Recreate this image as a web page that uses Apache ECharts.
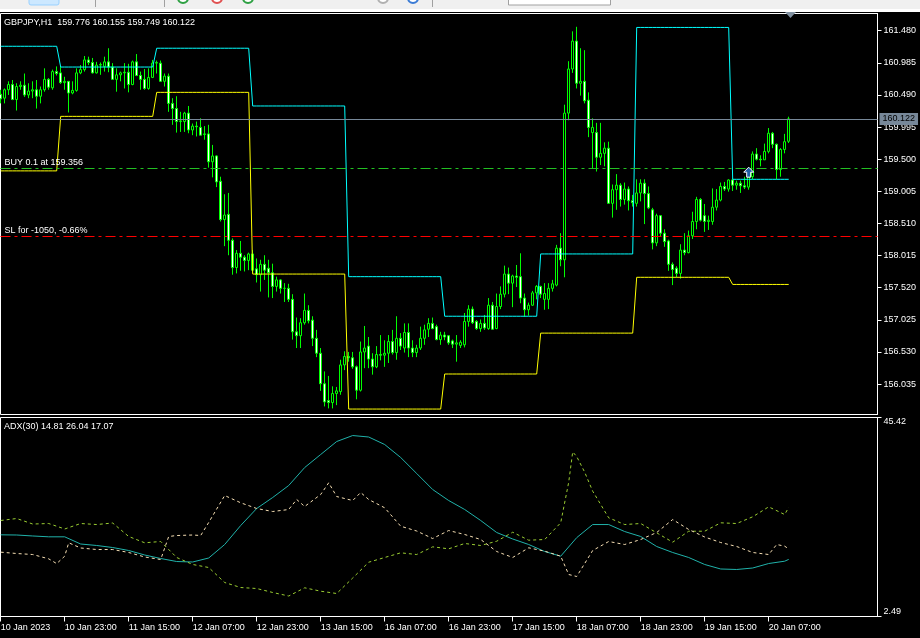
<!DOCTYPE html>
<html><head><meta charset="utf-8">
<script src="https://cdn.jsdelivr.net/npm/echarts@6/dist/echarts.min.js"></script>
<style>html,body{margin:0;padding:0;background:#000;}#c{width:920px;height:638px;}</style>
</head><body><div id="c"></div>
<script>
// ---------- DATA ----------
const headerOHLC = [159.776, 160.155, 159.749, 160.122];
const adxHeader = [14.81, 26.04, 17.07];

const opens = [160.50,160.44,160.57,160.65,160.42,160.62,160.64,160.49,160.55,160.57,160.47,160.57,160.73,160.60,160.85,160.83,160.68,160.70,160.52,160.56,
160.83,160.88,161.03,160.99,160.83,160.95,160.93,161.00,160.92,160.73,160.80,160.83,160.84,160.65,161.00,160.79,160.73,160.59,160.76,160.98,
160.98,160.70,160.78,160.36,160.28,160.08,160.08,160.21,159.95,160.01,159.99,159.88,159.89,159.46,159.55,159.16,158.57,158.65,158.25,157.83,
158.05,157.99,157.94,158.04,157.81,157.72,157.88,157.82,157.75,157.54,157.64,157.51,157.51,157.34,156.84,156.78,156.98,157.17,157.02,156.74,
156.51,156.04,155.78,155.75,155.89,155.92,156.33,156.46,156.44,156.30,155.94,156.53,156.62,156.42,156.30,156.49,156.48,156.51,156.69,156.52,
156.74,156.59,156.83,156.59,156.52,156.59,156.74,156.88,156.97,156.92,156.72,156.79,156.78,156.70,156.65,156.63,156.64,157.00,157.19,157.00,
156.89,156.97,156.89,157.25,156.89,157.23,157.42,157.73,157.59,157.70,157.69,157.36,157.18,157.25,157.44,157.54,157.34,157.34,157.51,157.56,
158.13,157.95,160.21,160.89,161.32,160.67,160.70,160.41,159.91,159.91,159.53,159.59,159.67,158.82,159.03,159.10,158.88,159.04,158.86,158.82,
158.98,159.13,158.97,158.72,158.21,158.63,158.36,158.24,157.88,157.82,157.74,158.10,158.06,158.32,158.54,158.88,158.63,158.54,158.54,158.76,
158.87,159.08,159.04,159.18,159.10,159.13,159.09,159.07,159.23,159.58,159.50,159.49,159.62,159.90,159.73,159.34,159.65,159.776];
const highs = [160.57,160.59,160.70,160.72,160.67,160.70,160.82,160.67,160.70,160.72,160.62,160.90,160.75,160.88,160.93,160.93,160.77,160.70,160.70,160.90,
160.95,161.09,161.08,161.06,161.00,160.99,161.08,161.21,160.98,160.90,160.85,160.98,160.97,161.02,161.12,160.85,160.89,160.90,161.03,161.02,
161.02,160.82,160.82,160.44,160.47,160.23,160.23,160.32,160.05,160.08,160.13,160.01,160.03,159.72,159.56,159.23,158.96,158.98,158.28,158.10,
158.24,158.02,158.06,158.10,157.97,157.95,158.02,157.95,157.89,157.69,157.65,157.59,157.58,157.42,157.06,157.05,157.43,157.25,157.08,156.87,
156.59,156.23,156.16,156.00,155.99,156.41,156.54,156.53,156.53,156.32,156.69,156.93,156.76,156.51,156.62,156.79,156.71,156.79,156.87,157.08,
156.82,156.97,156.97,156.71,156.64,156.92,156.95,157.05,157.06,156.95,156.84,156.84,156.79,156.72,156.79,156.71,157.13,157.25,157.23,157.02,
157.03,157.10,157.36,157.30,157.43,157.54,157.86,157.83,157.72,157.87,158.05,157.43,157.29,157.47,157.56,157.55,157.59,157.59,157.64,158.18,
158.36,160.34,161.01,161.47,161.54,161.21,161.18,160.53,160.13,160.06,160.06,159.76,159.77,159.11,159.27,159.13,159.14,159.08,158.95,159.19,
159.19,159.19,159.08,158.75,158.66,158.64,158.42,158.26,157.91,157.85,158.19,158.36,158.40,158.69,158.92,158.90,158.81,158.63,159.05,159.04,
159.14,159.15,159.19,159.20,159.17,159.17,159.23,159.33,159.62,159.67,159.56,159.74,159.98,159.92,159.74,159.67,159.89,160.155];
const lows = [160.36,160.36,160.49,160.41,160.25,160.57,160.46,160.44,160.44,160.28,160.36,160.54,160.57,160.57,160.79,160.66,160.57,160.22,160.50,160.54,
160.81,160.85,160.95,160.82,160.82,160.80,160.85,160.84,160.72,160.54,160.70,160.59,160.53,160.64,160.78,160.57,160.57,160.57,160.75,160.82,
160.69,160.62,160.23,160.03,159.91,159.92,159.92,159.90,159.87,159.85,159.87,159.80,159.37,159.22,159.07,158.54,158.16,158.02,157.72,157.74,
157.78,157.77,157.79,157.75,157.60,157.46,157.64,157.37,157.36,157.46,157.43,157.30,157.30,156.72,156.59,156.59,156.95,156.97,156.62,156.45,
155.93,155.69,155.66,155.66,155.71,155.87,156.25,156.38,156.27,155.80,155.92,156.28,156.28,156.18,156.28,156.40,156.30,156.36,156.49,156.41,
156.56,156.52,156.45,156.45,156.45,156.56,156.64,156.76,156.88,156.71,156.64,156.71,156.64,156.59,156.38,156.59,156.60,156.92,156.96,156.87,
156.84,156.87,156.87,156.87,156.88,157.19,157.37,157.42,157.22,157.53,157.28,157.07,157.09,157.24,157.34,157.36,157.18,157.19,157.46,157.54,
157.85,157.68,160.10,160.83,160.59,160.48,160.36,159.84,159.36,159.31,159.41,159.39,158.81,158.60,158.72,158.77,158.80,158.71,158.77,158.77,
158.85,158.50,158.73,158.11,158.16,158.31,158.15,157.78,157.56,157.68,157.66,158.02,158.05,158.27,158.42,158.54,158.38,158.41,158.49,158.71,
158.85,159.01,159.00,159.01,159.03,158.98,159.04,159.03,159.19,159.48,159.39,159.49,159.59,159.67,159.19,159.23,159.59,159.749];
const closes = [160.43,160.57,160.65,160.42,160.62,160.64,160.49,160.55,160.57,160.47,160.57,160.73,160.61,160.85,160.82,160.68,160.70,160.52,160.56,160.83,
160.88,161.03,160.99,160.83,160.95,160.96,161.00,160.92,160.73,160.80,160.83,160.84,160.65,161.00,160.79,160.73,160.59,160.76,160.98,160.99,
160.70,160.78,160.36,160.28,160.08,160.09,160.21,159.95,160.01,160.00,159.87,159.89,159.46,159.55,159.15,158.57,158.64,158.25,157.83,158.05,
157.99,157.94,158.04,157.79,157.72,157.88,157.79,157.75,157.54,157.64,157.51,157.51,157.34,156.84,156.78,156.98,157.17,157.01,156.74,156.51,
156.04,155.76,155.75,155.89,155.93,156.33,156.46,156.44,156.30,155.94,156.53,156.59,156.42,156.30,156.49,156.48,156.51,156.69,156.52,156.74,
156.62,156.83,156.59,156.52,156.59,156.74,156.87,156.97,156.89,156.72,156.79,156.76,156.67,156.65,156.67,156.68,157.00,157.19,156.98,156.89,
156.97,156.90,157.25,156.88,157.23,157.42,157.73,157.59,157.70,157.68,157.36,157.18,157.25,157.44,157.54,157.42,157.43,157.51,157.58,158.13,
157.95,160.21,160.89,161.32,160.67,160.70,160.40,159.99,159.99,159.53,159.59,159.67,158.82,159.03,159.10,158.88,159.04,158.86,158.83,158.98,
159.13,158.97,158.75,158.21,158.63,158.36,158.23,157.88,157.80,157.74,158.10,158.06,158.32,158.54,158.88,158.56,158.54,158.56,158.76,158.87,
159.08,159.04,159.18,159.10,159.13,159.09,159.07,159.23,159.58,159.50,159.49,159.62,159.90,159.73,159.34,159.65,159.77,160.122];

// channel (cyan upper / yellow lower), constant per segment starting at bar index
const channelStarts = [0, 15, 39, 63, 87, 111, 135, 159, 183];
const upperLevels = [161.24, 160.92, 161.21, 160.32, 157.69, 157.08, 158.04, 161.53, 159.19];
const lowerLevels = [159.32, 160.16, 160.53, 157.73, 155.65, 156.19, 156.82, 157.68, 157.57];

const lastPrice = 160.122;
const buyPrice = 159.356;
const slPrice = 158.31;
const buyText = 'BUY 0.1 at 159.356';
const slText = 'SL for -1050, -0.66%';
const arrowBar = 187, arrowPrice = 159.30;

const priceTicks = [156.035,156.530,157.025,157.520,158.015,158.510,159.005,159.500,159.995,160.490,160.985,161.480];
const timeTickBars = [0,16,32,48,64,80,96,112,128,144,160,176,192];
const timeTickLabels = ['10 Jan 2023','10 Jan 23:00','11 Jan 15:00','12 Jan 07:00','12 Jan 23:00','13 Jan 15:00','16 Jan 07:00','16 Jan 23:00','17 Jan 15:00','18 Jan 07:00','18 Jan 23:00','19 Jan 15:00','20 Jan 07:00'];

const adxBars = [0,4,8,12,16,20,24,28,32,36,40,44,48,52,56,60,64,68,72,76,80,84,88,92,96,100,104,108,112,116,120,124,128,132,136,140,144,148,152,156,160,164,168,172,176,180,184,188,192,196,197];
const adxVals = [20.11,20.07,19.86,19.68,19.68,18.13,17.81,17.37,16.73,15.76,15.00,14.35,14.25,15.11,18.02,22.12,25.79,28.16,30.75,34.63,37.44,40.24,41.53,41.21,39.59,36.79,33.34,29.88,27.51,25.57,23.20,20.61,19.21,18.02,16.51,15.50,19.50,22.33,22.33,20.82,19.75,17.59,16.30,15.22,13.71,12.74,12.63,12.95,13.92,14.42,14.81];
const pdiBars = [0,4,8,12,16,20,24,28,32,36,40,44,48,52,56,60,64,68,72,76,80,84,88,92,96,100,104,108,112,116,120,124,128,132,136,140,142,143,144,146,148,152,156,160,164,168,172,176,180,184,188,192,196,197];
const pdiVals = [23.20,23.63,22.44,22.55,21.37,22.55,22.33,22.66,19.75,18.39,18.67,15.22,13.71,13.06,9.82,8.74,8.53,7.67,6.91,8.68,7.95,7.45,10.79,14.20,15.22,16.23,15.86,17.52,17.09,18.24,17.81,18.73,20.67,18.95,19.10,22.70,31.45,38.00,37.00,33.62,29.52,23.78,22.33,22.55,20.54,18.52,20.89,20.89,22.70,22.55,24.00,26.15,24.49,26.04];
const mdiBars = [0,4,8,12,14,16,17,20,24,28,32,36,40,42,44,48,50,52,56,60,64,68,72,74,76,80,82,84,88,90,92,96,100,104,108,112,116,120,124,128,132,136,140,142,144,148,152,156,160,164,168,172,176,180,184,188,192,194,196,197];
const mdiVals = [16.37,16.08,15.86,14.93,13.90,15.50,18.39,17.27,16.94,16.94,16.30,15.33,14.78,19.75,19.96,20.07,19.96,22.77,28.59,27.02,25.79,25.14,25.57,27.73,26.22,28.81,31.33,28.37,27.51,29.24,27.73,25.94,21.97,20.93,19.31,21.04,20.18,19.10,16.51,15.22,17.31,16.58,15.50,11.55,11.12,16.73,18.67,18.02,19.10,20.61,23.41,21.26,19.64,18.45,17.59,16.30,15.86,18.02,17.66,17.07];
const adxRange = [2.49, 45.42];

// ---------- CHART ----------
const F = "'Liberation Sans', Arial, sans-serif";
const xMin = -0.05, xMax = 219.2;

function levelAt(levels, i) {
  let k = 0;
  for (let j = 0; j < channelStarts.length; j++) if (i >= channelStarts[j]) k = j;
  return levels[k];
}
const candleData = opens.map((o, i) => [i, o, closes[i], lows[i], highs[i]]);
const upperData = opens.map((_, i) => [i, levelAt(upperLevels, i)]);
const lowerData = opens.map((_, i) => [i, levelAt(lowerLevels, i)]);
const pairs = (b, v) => b.map((x, k) => [x, v[k]]);

const chart = echarts.init(document.getElementById('c'), null, {renderer: 'canvas'});
const dashDot = [10, 4, 3, 4];
const txt = {color: '#fff', fontSize: 9, fontFamily: F, fontWeight: 'normal'};

chart.setOption({
  animation: false,
  backgroundColor: '#000',
  title: [
    {text: 'GBPJPY,H1  ' + headerOHLC.map(v => v.toFixed(3)).join(' '), left: 4, top: 18, padding: 0, textStyle: txt},
    {text: 'ADX(30) ' + adxHeader.map(v => v.toFixed(2)).join(' '), left: 4, top: 422, padding: 0, textStyle: txt}
  ],
  grid: [
    {left: 0.5, top: 13.5, width: 877, height: 401, show: true, borderColor: '#fff', borderWidth: 1, backgroundColor: 'transparent', containLabel: false, outerBoundsMode: 'none'},
    {left: 0.5, top: 417.5, width: 877, height: 199, show: true, borderColor: '#fff', borderWidth: 1, backgroundColor: 'transparent', containLabel: false, outerBoundsMode: 'none'}
  ],
  xAxis: [
    {type: 'value', gridIndex: 0, min: xMin, max: xMax, show: false, axisLine: {onZero: false}, splitLine: {show: false}},
    {type: 'value', gridIndex: 1, min: xMin, max: xMax, position: 'bottom',
      axisLine: {show: true, onZero: false, lineStyle: {color: '#fff', width: 1}},
      axisTick: {show: true, length: 5, inside: false, customValues: timeTickBars, lineStyle: {color: '#fff'}},
      axisLabel: {show: true, customValues: timeTickBars, align: 'left', margin: 7,
        formatter: v => { const k = timeTickBars.indexOf(Math.round(v)); return k >= 0 ? timeTickLabels[k] : ''; },
        color: '#fff', fontSize: 9, fontFamily: F},
      splitLine: {show: false}}
  ],
  yAxis: [
    {type: 'value', gridIndex: 0, position: 'right', min: 155.566, max: 161.745,
      axisLine: {show: true, onZero: false, lineStyle: {color: '#fff'}},
      axisTick: {show: true, length: 4, customValues: priceTicks, lineStyle: {color: '#fff'}},
      axisLabel: {show: true, customValues: priceTicks, formatter: v => v.toFixed(3), margin: 6, color: '#fff', fontSize: 9, fontFamily: F},
      splitLine: {show: false}},
    {type: 'value', gridIndex: 1, position: 'right', min: adxRange[0], max: adxRange[1],
      axisLine: {show: true, onZero: false, lineStyle: {color: '#fff'}},
      axisTick: {show: true, length: 4, customValues: adxRange, lineStyle: {color: '#fff'}},
      axisLabel: {show: true, customValues: adxRange, formatter: v => v.toFixed(2), margin: 6, color: '#fff', fontSize: 9, fontFamily: F,
        verticalAlignMinLabel: 'bottom', verticalAlignMaxLabel: 'top'},
      splitLine: {show: false}}
  ],
  series: [
    {type: 'candlestick', xAxisIndex: 0, yAxisIndex: 0, data: candleData, encode: {x: 0, y: [1, 2, 3, 4]},
      barWidth: 3,
      itemStyle: {color: '#000', color0: '#fff', borderColor: '#00ff00', borderColor0: '#00ff00', borderColorDoji: '#00ff00', borderWidth: 1},
      markLine: {symbol: 'none', silent: true, animation: false, z: 5,
        data: [
          {yAxis: lastPrice, lineStyle: {color: '#778899', type: 'solid', width: 1},
            label: {show: true, position: 'end', distance: 2, formatter: lastPrice.toFixed(3), color: '#000', backgroundColor: '#778899', padding: [2, 3, 1, 3], fontSize: 9, fontFamily: F}},
          {yAxis: buyPrice, lineStyle: {color: '#22c022', type: dashDot, width: 1},
            label: {show: true, position: 'insideStartTop', distance: [4, 1], formatter: buyText, color: '#fff', fontSize: 9, fontFamily: F}},
          {yAxis: slPrice, lineStyle: {color: '#ff0000', type: dashDot, width: 1},
            label: {show: true, position: 'insideStartTop', distance: [4, 1], formatter: slText, color: '#fff', fontSize: 9, fontFamily: F}}
        ]},
      markPoint: {animation: false, data: [{coord: [arrowBar, arrowPrice],
        symbol: 'path://M5,0 L10,5 L7,5 L7,10 L3,10 L3,5 L0,5 Z', symbolSize: [10, 10],
        itemStyle: {color: '#1f5fa8', borderColor: '#fff', borderWidth: 1}, label: {show: false}}]}
    },
    {type: 'line', xAxisIndex: 0, yAxisIndex: 0, data: upperData, showSymbol: false, symbol: 'none', z: 3,
      lineStyle: {color: '#00ffff', width: 1}},
    {type: 'line', xAxisIndex: 0, yAxisIndex: 0, data: lowerData, showSymbol: false, symbol: 'none', z: 3,
      lineStyle: {color: '#ffff00', width: 1}},
    {type: 'line', xAxisIndex: 1, yAxisIndex: 1, data: pairs(adxBars, adxVals), showSymbol: false, symbol: 'none',
      lineStyle: {color: '#20b2aa', width: 1}},
    {type: 'line', xAxisIndex: 1, yAxisIndex: 1, data: pairs(pdiBars, pdiVals), showSymbol: false, symbol: 'none',
      lineStyle: {color: '#9acd32', width: 1, type: [3, 3]}},
    {type: 'line', xAxisIndex: 1, yAxisIndex: 1, data: pairs(mdiBars, mdiVals), showSymbol: false, symbol: 'none',
      lineStyle: {color: '#f5deb3', width: 1, type: [3, 3]}}
  ],
  graphic: [
    {type: 'rect', silent: true, z: 100, shape: {x: 0, y: 0, width: 920, height: 9}, style: {fill: '#f0f0f0'}},
    {type: 'rect', silent: true, z: 100, shape: {x: 0, y: 9, width: 920, height: 3}, style: {fill: '#ffffff'}},
    {type: 'rect', silent: true, z: 101, shape: {x: 29, y: -4, width: 30, height: 9, r: 2}, style: {fill: '#cce8ff', stroke: '#99d1ff'}},
    {type: 'line', silent: true, z: 101, shape: {x1: 95.5, y1: 0, x2: 95.5, y2: 7}, style: {stroke: '#a0a0a0'}},
    {type: 'line', silent: true, z: 101, shape: {x1: 164.5, y1: 0, x2: 164.5, y2: 7}, style: {stroke: '#a0a0a0'}},
    {type: 'line', silent: true, z: 101, shape: {x1: 432.5, y1: 0, x2: 432.5, y2: 7}, style: {stroke: '#a0a0a0'}},
    {type: 'circle', silent: true, z: 101, shape: {cx: 183, cy: -2, r: 5}, style: {fill: '#ffffff', stroke: '#2ea043', lineWidth: 2}},
    {type: 'circle', silent: true, z: 101, shape: {cx: 217, cy: -2, r: 5}, style: {fill: '#ffffff', stroke: '#e05050', lineWidth: 2}},
    {type: 'circle', silent: true, z: 101, shape: {cx: 248, cy: -2, r: 5}, style: {fill: '#ffffff', stroke: '#2ea043', lineWidth: 2}},
    {type: 'circle', silent: true, z: 101, shape: {cx: 383, cy: -2, r: 5}, style: {fill: '#ffffff', stroke: '#b0b0b0', lineWidth: 2}},
    {type: 'circle', silent: true, z: 101, shape: {cx: 413, cy: -2, r: 5}, style: {fill: '#ffffff', stroke: '#3a7bd5', lineWidth: 2}},
    {type: 'rect', silent: true, z: 101, shape: {x: 508.5, y: -2, width: 102, height: 7}, style: {fill: '#ffffff', stroke: '#a0a0a0'}},
    {type: 'polygon', silent: true, z: 101, shape: {points: [[785, 12], [796, 12], [790.5, 18]]}, style: {fill: '#8090a0'}}
  ]
});
</script>
</body></html>
